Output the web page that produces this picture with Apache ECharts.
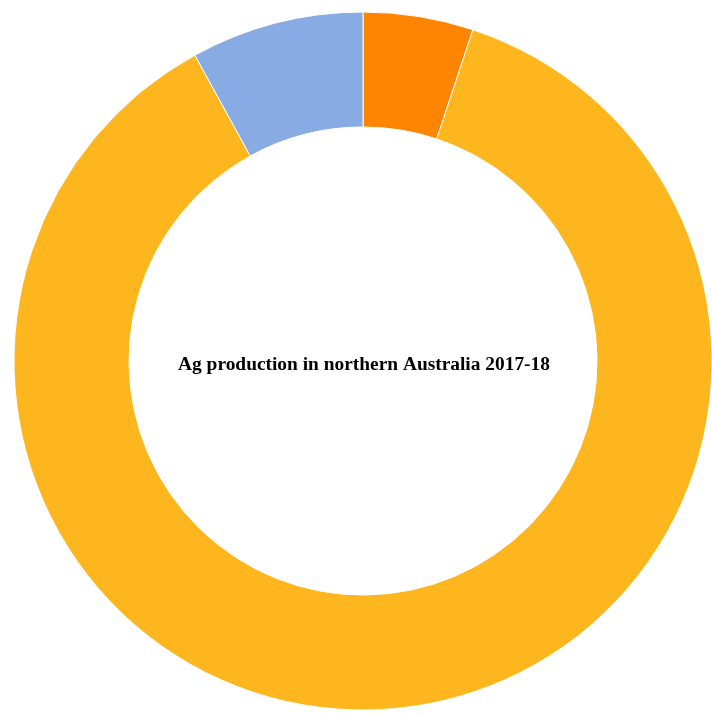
<!DOCTYPE html>
<html>
<head>
<meta charset="utf-8">
<script src="https://cdn.jsdelivr.net/npm/echarts@6/dist/echarts.min.js"></script>
<style>
  html, body { margin: 0; padding: 0; background: #fff; }
  #chart { width: 712px; height: 714px; }
</style>
</head>
<body>
<div id="chart"></div>
<script>
// share of production, clockwise from 12 o'clock
var categories = ['Crops', 'Livestock', 'Other'];
var shares = [5.1, 86.9, 8.0];
var colors = ['#ff8500', '#feb61e', '#89abe3'];

var chart = echarts.init(document.getElementById('chart'));
chart.setOption({
  animation: false,
  title: {
    text: 'Ag production in northern Australia 2017-18',
    left: 359,
    top: 350,
    textAlign: 'center',
    textStyle: {
      fontFamily: 'Liberation Serif',
      fontWeight: 'bold',
      fontSize: 19.4,
      color: '#000'
    }
  },
  series: [{
    type: 'pie',
    center: [363, 361],
    radius: [234, 349],
    startAngle: 90,
    clockwise: true,
    label: { show: false },
    labelLine: { show: false },
    itemStyle: { borderColor: '#fff', borderWidth: 1 },
    data: categories.map(function (c, i) {
      return { name: c, value: shares[i], itemStyle: { color: colors[i] } };
    })
  }]
});
</script>
</body>
</html>
